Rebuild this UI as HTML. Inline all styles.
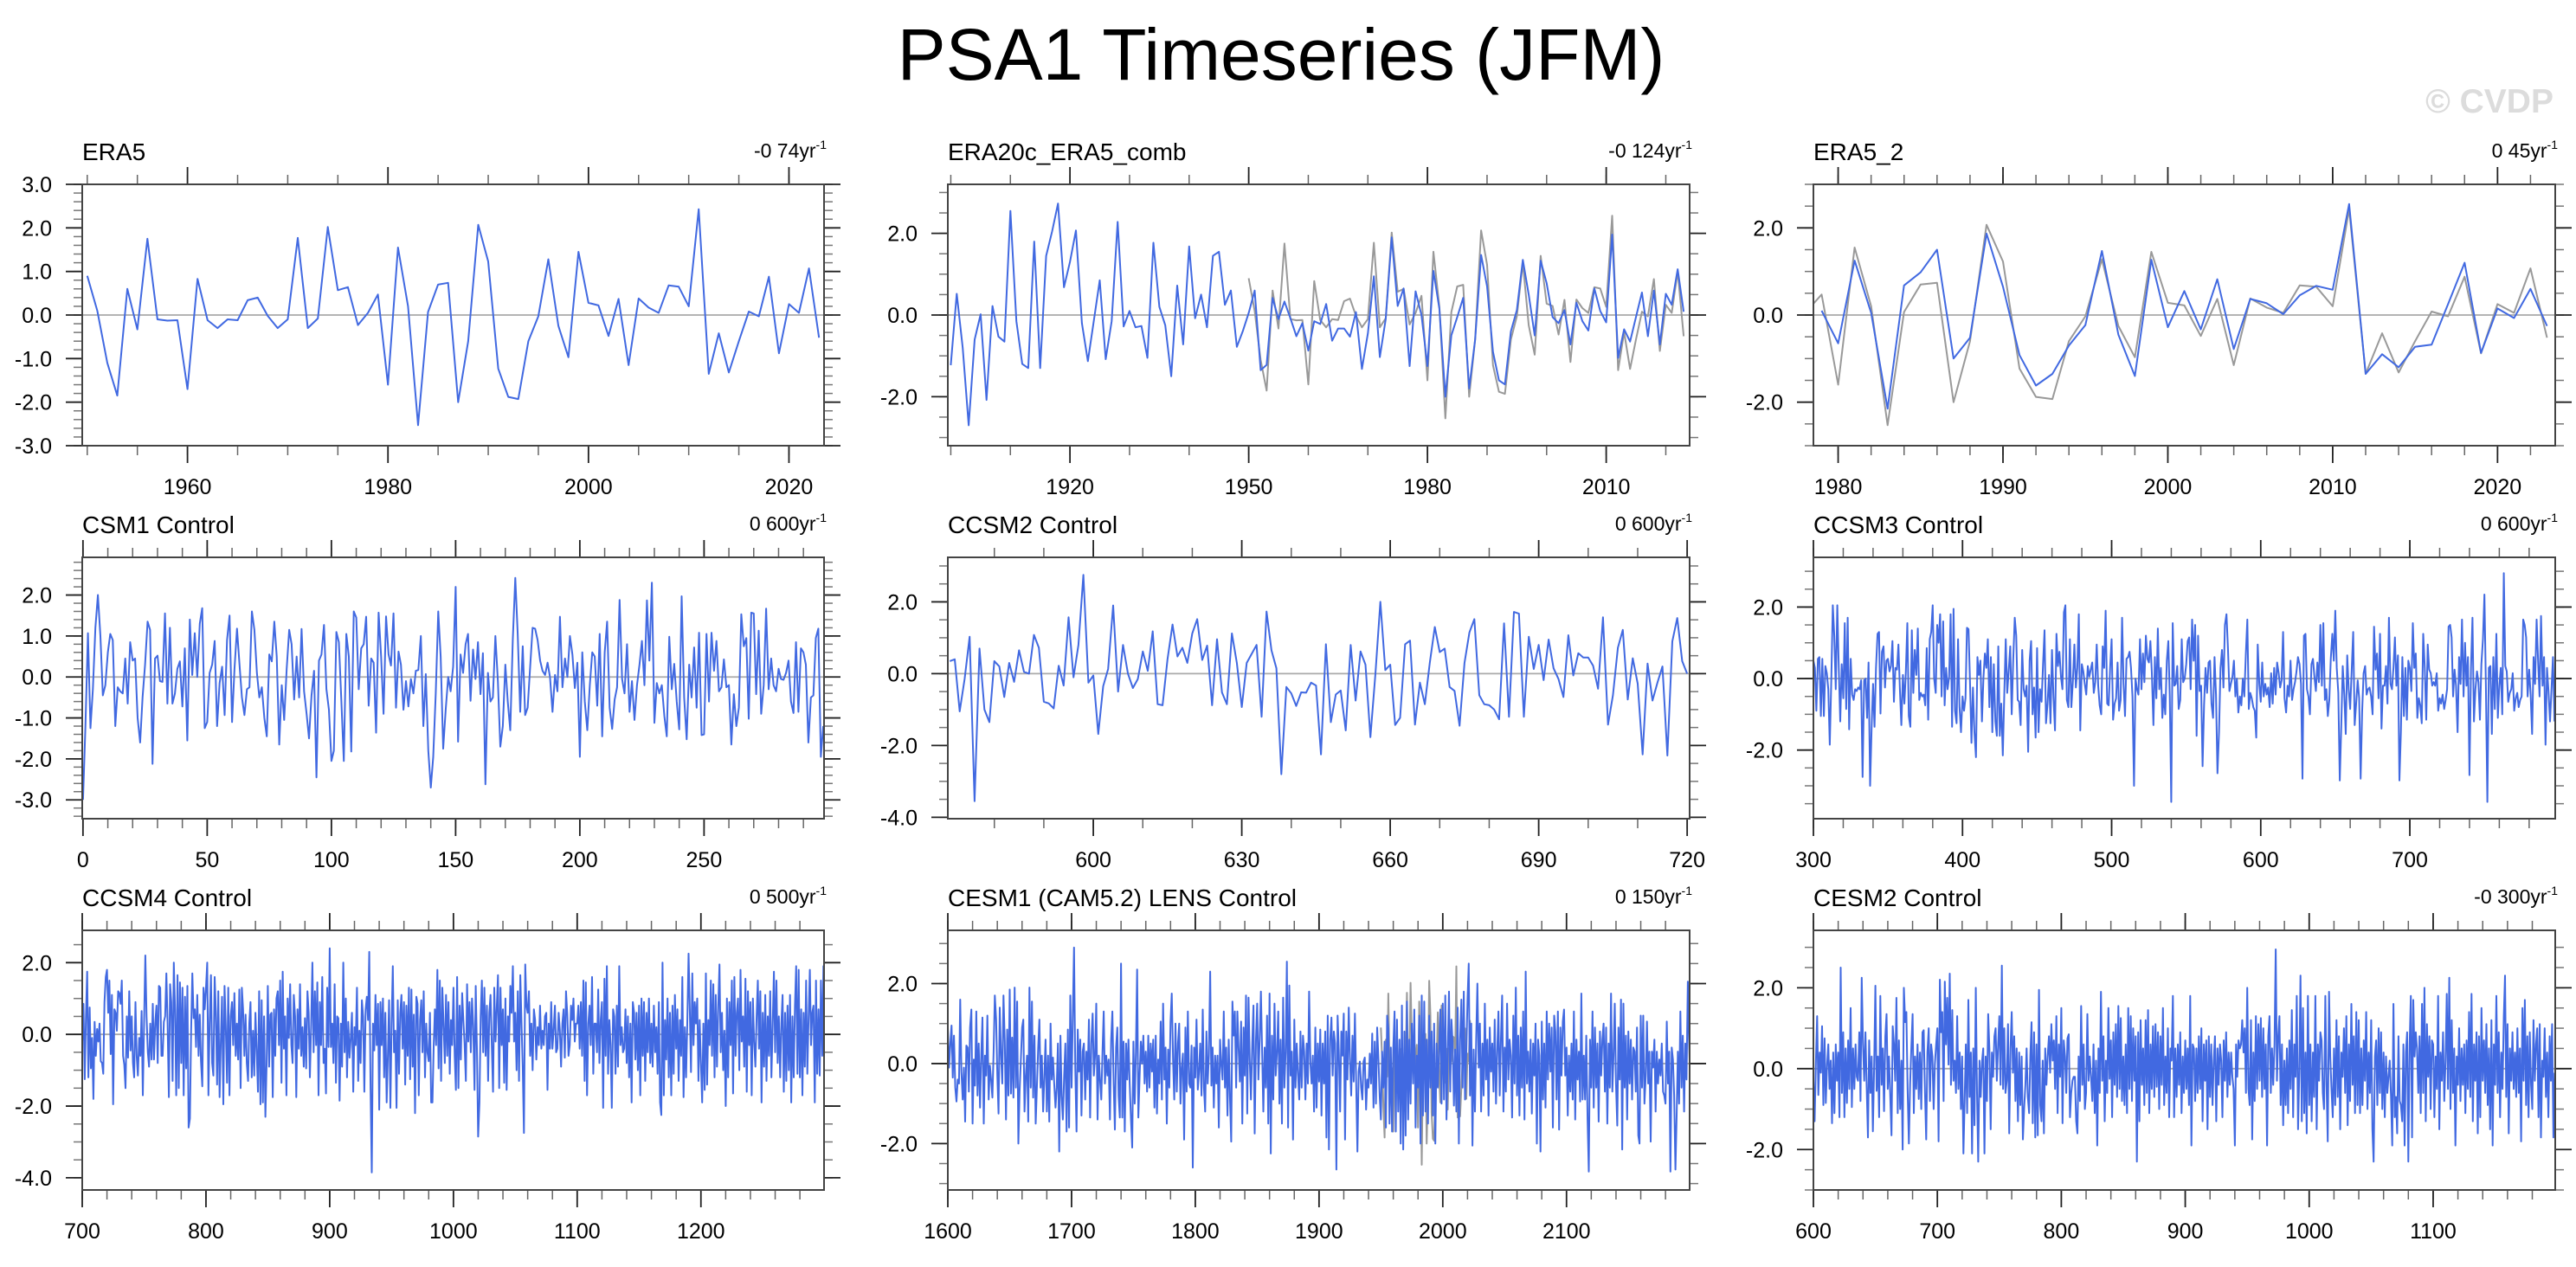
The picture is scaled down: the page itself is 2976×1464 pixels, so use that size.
<!DOCTYPE html>
<html><head><meta charset="utf-8"><style>
html,body{margin:0;padding:0;background:#fff;}
svg{display:block;font-family:"Liberation Sans",Arial,sans-serif;}
</style></head><body>
<svg id="fig" width="2976" height="1464" viewBox="0 0 2976 1464" xmlns="http://www.w3.org/2000/svg">
<rect x="0" y="0" width="2976" height="1464" fill="#fff"/>
<text x="1480" y="92" font-size="84" text-anchor="middle" fill="#000">PSA1 Timeseries (JFM)</text>
<text x="2950" y="130" font-size="39" font-weight="bold" text-anchor="end" fill="#dcdcdc">© CVDP</text>
<defs id="defs"></defs>
</svg>
<script>
// ---------- DATA ----------
const era5Start = 1950;
const era5Values = [0.9,0.1,-1.1,-1.85,0.6,-0.33,1.75,-0.1,-0.13,-0.12,
-1.7,0.83,-0.12,-0.3,-0.1,-0.12,0.34,0.4,-0.02,-0.3,
-0.1,1.77,-0.3,-0.08,2.02,0.57,0.64,-0.23,0.05,0.47,
-1.6,1.55,0.2,-2.53,0.07,0.7,0.74,-2.0,-0.6,2.07,
1.23,-1.23,-1.88,-1.93,-0.6,-0.03,1.28,-0.25,-0.97,1.45,
0.28,0.22,-0.48,0.37,-1.15,0.38,0.17,0.05,0.68,0.65,
0.2,2.43,-1.35,-0.42,-1.32,-0.6,0.08,-0.03,0.88,-0.88,
0.25,0.05,1.07,-0.52];

const era20cStart = 1900;
const era20cValues = [-1.23,0.52,-0.8,-2.7,-0.6,0.02,-2.08,0.22,-0.53,-0.65,
2.55,-0.15,-1.2,-1.3,1.8,-1.3,1.45,2.05,2.73,0.68,
1.3,2.07,-0.2,-1.13,-0.15,0.85,-1.08,-0.15,2.28,-0.28,
0.1,-0.3,-0.27,-1.05,1.77,0.2,-0.25,-1.5,0.72,-0.72,
1.68,-0.08,0.5,-0.3,1.45,1.55,0.25,0.6,-0.78,-0.4,
0.05,0.6,-1.35,-1.22,0.42,-0.1,0.33,-0.08,-0.52,-0.2,
-0.87,-0.15,-0.22,0.27,-0.63,-0.33,-0.33,-0.53,0.07,-1.32,
-0.45,0.95,-1.03,-0.1,1.9,0.22,0.65,-1.25,0.58,0.0,
-1.25,1.08,0.15,-2.0,-0.5,-0.05,0.42,-1.8,-0.6,1.47,
0.7,-0.9,-1.6,-1.7,-0.4,0.12,1.35,0.5,-0.5,1.33,
0.78,-0.05,-0.2,0.12,-0.72,0.3,-0.15,-0.38,0.65,0.1,
-0.18,1.97,-1.05,-0.35,-0.65,-0.05,0.55,-0.52,0.6,-0.72,
0.52,0.25,1.12,0.08];

const era5bStart = 1979;
const era5bValues = [0.1,-0.65,1.25,0.05,-2.15,0.68,0.98,1.5,-1.0,-0.52,
1.87,0.65,-0.92,-1.62,-1.35,-0.7,-0.23,1.47,-0.45,-1.4,
1.27,-0.28,0.55,-0.33,0.82,-0.78,0.37,0.27,0.02,0.45,
0.67,0.58,2.55,-1.35,-0.9,-1.2,-0.73,-0.68,0.25,1.2,
-0.87,0.15,-0.07,0.6,-0.25];

const csm1Start = 0;
const csm1Values = [-3.0,-1.2,1.07,-1.25,-0.3,1.2,2.0,1.0,-0.45,-0.2,
0.6,1.05,0.9,-1.2,-0.25,-0.35,-0.4,0.45,-0.65,0.85,
0.4,0.45,-1.0,-1.6,-0.5,0.3,1.35,1.15,-2.12,0.45,
0.52,-0.1,-0.12,1.55,-0.65,1.2,-0.65,-0.4,0.2,0.38,
-0.72,0.7,-1.55,1.4,0.05,1.07,0.0,1.3,1.68,-1.25,
-1.1,0.1,0.3,0.88,-1.2,-0.15,0.25,-0.93,0.9,1.5,
-1.1,0.2,1.18,0.3,-0.5,-0.93,-0.3,-0.25,1.6,1.15,
0.1,-0.5,-0.25,-1.0,-1.45,0.55,0.38,1.35,0.5,-1.65,
-0.2,-1.05,0.2,1.15,0.8,-0.55,0.5,-0.5,1.17,-0.35,
-0.9,-1.5,-0.45,0.15,-2.45,0.4,0.55,1.27,-0.3,-0.8,
-2.05,-1.8,1.1,0.85,-0.55,-2.05,1.05,0.5,-1.82,1.6,
1.45,-0.3,0.7,0.8,1.47,-0.7,0.45,0.35,-1.36,1.57,
0.5,-0.9,1.48,0.55,0.28,1.55,-0.75,0.62,0.3,-0.8,
-0.1,-0.72,-0.05,-0.4,0.15,0.17,1.0,-1.2,0.07,-1.8,
-2.7,-1.95,-0.4,1.6,0.5,-1.75,-0.8,0.0,-0.35,0.25,
2.2,-1.58,0.55,0.1,0.8,1.05,-0.58,0.67,-0.05,0.85,
-0.42,0.58,-2.62,0.1,-0.6,-0.5,1.0,-0.1,-1.7,-1.2,
0.3,-0.6,-1.3,0.9,2.42,1.05,-0.85,0.75,-0.93,-0.75,
0.25,1.2,1.18,0.9,0.4,0.15,0.05,0.35,0.0,-0.85,
0.05,-0.35,1.47,-0.25,0.45,0.0,1.0,0.55,-0.27,0.35,
-1.95,0.6,-0.6,-1.3,-0.2,0.6,0.5,-0.7,1.05,-1.45,
0.6,1.35,-0.75,-1.27,-0.55,-0.25,1.88,-0.05,-0.4,0.8,
-0.85,-0.1,-1.05,-0.2,0.3,0.88,-0.2,1.87,0.4,2.3,
-1.12,-0.15,-0.4,-0.2,-0.95,-1.45,0.98,-0.3,0.32,-0.6,
-1.28,1.97,-0.5,-1.52,0.3,-0.5,0.72,-0.75,1.08,-1.42,
-1.4,1.05,-0.6,1.08,0.15,0.88,-0.35,-0.25,0.43,-0.25,
-0.2,-1.65,-0.42,-1.2,-0.75,1.53,0.75,0.95,-1.02,1.57,
1.55,-0.42,1.13,-0.9,-0.2,1.67,-0.3,0.45,-0.2,-0.35,
0.2,-0.05,-0.07,0.1,0.4,-0.6,-0.88,0.85,-0.85,0.7,
0.6,0.3,-1.6,-0.5,-0.45,0.95,1.18,-1.95,-1.2];

const ccsm2Start = 571;
const ccsm2Values = [0.35,0.4,-1.05,-0.15,1.03,-3.55,0.7,-1.0,-1.35,0.35,
0.2,-0.65,0.3,-0.23,0.65,0.05,0.0,1.08,0.72,-0.78,
-0.83,-0.97,0.22,-0.33,1.57,-0.1,0.8,2.75,-0.25,-0.05,
-1.68,-0.35,0.13,1.9,-0.5,0.8,0.0,-0.4,-0.15,0.62,
0.08,1.18,-0.85,-0.88,0.4,1.37,0.48,0.72,0.3,1.12,
1.52,0.38,0.78,-0.88,0.96,-0.52,-0.85,1.12,0.3,-0.93,
0.3,0.55,0.8,-1.2,1.73,0.65,0.15,-2.8,-0.37,-0.55,
-0.9,-0.52,-0.53,-0.25,-0.33,-2.25,0.82,-1.35,-0.58,-0.47,
-1.58,0.8,-0.75,0.62,0.25,-1.77,0.0,2.0,0.1,0.25,
-1.43,-1.23,0.82,0.92,-1.42,-0.25,-0.85,0.3,1.3,0.6,
0.7,-0.37,-0.48,-1.45,0.3,1.15,1.52,-0.6,-0.85,-0.88,
-1.0,-1.27,1.4,-1.2,1.72,1.67,-1.2,1.03,0.13,0.8,
-0.18,0.95,0.15,-0.15,-0.65,1.07,-0.05,0.57,0.45,0.45,
0.22,-0.42,1.57,-1.42,-0.6,0.72,1.22,-0.72,0.43,-0.28,
-2.25,0.28,-0.75,-0.25,0.2,-2.28,0.9,1.55,0.35,0.0];

const ccsm3Start = 300;
const ccsm3Values = [0.5,0.3,-0.9,0.55,0.6,-1.05,0.55,-1.05,0.35,0.15,
-0.3,-1.85,0.0,2.05,1.2,-0.3,2.05,0.3,-1.2,0.4,
-0.55,1.55,-0.85,1.7,-1.42,0.55,-0.45,-0.6,-0.3,-0.35,
-0.25,-0.3,-0.05,-2.75,-0.05,0.0,-1.1,0.45,-3.0,-1.4,
-0.15,-1.35,0.3,1.25,1.3,-0.98,0.75,0.9,-0.25,0.5,
0.55,0.2,0.35,1.05,-0.65,0.3,0.25,0.95,-0.3,-1.3,
0.1,-0.7,0.2,1.55,-1.05,-1.35,1.35,-0.4,0.8,0.1,
1.4,-0.6,-0.4,-0.5,-0.45,-0.75,0.85,-1.15,1.1,1.3,
2.05,0.0,-0.4,1.5,1.0,1.8,-0.5,1.6,-0.75,0.3,
-0.3,0.05,1.8,-1.35,1.95,-0.9,-1.25,1.1,-0.8,-1.5,
-0.5,-0.9,-0.55,1.42,1.38,-0.1,-1.8,-0.25,-1.5,-2.2,
0.6,0.1,0.5,-1.2,0.0,0.7,0.3,1.1,-0.8,0.6,
-1.5,0.4,-1.2,-1.6,0.9,-1.6,-0.7,-2.15,-0.45,1.1,
-0.4,0.25,0.9,-1.0,0.5,1.7,1.2,-0.6,-0.65,-1.3,
0.8,-0.3,-0.5,-0.2,-2.05,0.5,1.05,-1.0,-0.25,-1.65,
0.85,-1.5,-0.3,-0.65,0.4,1.35,-1.25,-0.7,0.1,-1.25,
0.8,-0.5,-1.45,1.25,0.35,0.75,0.05,-0.3,1.85,2.05,
-0.6,-0.8,1.1,-0.8,-0.1,0.95,-0.25,0.3,1.8,-1.45,
0.4,0.2,-0.15,-0.45,0.35,0.05,0.25,0.45,-0.4,-0.1,
0.95,-0.2,-0.75,-1.0,0.9,0.3,1.9,-0.7,-0.75,0.3,
1.1,-1.15,-0.7,-0.55,0.45,-0.9,-0.6,1.7,-0.15,-1.05,
0.55,0.6,0.75,0.3,-0.5,-3.0,0.0,-0.3,-0.45,1.1,
-0.3,0.7,-0.1,1.2,0.55,0.45,1.05,0.15,-1.3,0.6,
-0.55,1.4,-0.3,0.3,-1.1,-0.45,-1.0,0.5,1.05,-0.5,
-3.45,1.55,-0.2,-0.15,0.35,-0.85,-0.6,1.1,-0.1,0.0,
0.4,1.05,1.15,-0.3,1.65,0.5,1.5,-1.6,1.2,-0.35,
-0.2,-2.45,-0.75,0.3,-0.4,0.45,0.5,-0.7,-1.1,0.6,
-0.45,-2.65,-1.5,0.3,0.8,-0.25,1.5,1.8,0.85,-0.35,
-0.15,0.05,0.5,-0.5,0.0,-0.95,-0.5,-0.75,0.0,-0.5,
0.7,1.65,-0.85,-0.4,-0.55,-0.8,-0.9,-1.65,0.95,-0.15,
-0.65,0.45,-0.5,-0.15,-0.45,-0.25,-0.8,0.15,-0.7,0.3,
-0.45,0.45,0.15,-0.25,-0.05,1.3,-0.55,-0.95,-0.2,-0.5,
0.5,-0.6,-0.3,-0.1,0.2,0.6,0.4,-0.15,-2.8,1.2,
1.25,-0.3,-0.5,-1.0,0.4,0.55,0.05,-0.35,0.45,-0.1,
1.5,-0.2,1.55,-0.6,-0.3,-1.05,-0.6,0.55,1.25,0.5,
1.9,0.3,-0.4,-2.85,-1.35,0.35,-0.45,-1.55,0.65,-0.3,
-0.85,0.25,1.3,-1.3,-0.7,-0.05,-0.55,-2.8,-0.95,0.15,
0.35,-0.45,-0.3,-0.25,-0.5,-1.0,1.45,0.25,0.7,-0.55,
1.25,-1.4,-0.2,-0.2,0.35,-0.7,1.7,-0.15,-0.3,0.3,
1.15,-0.2,0.65,-2.85,-1.5,0.6,-1.05,0.3,-1.15,0.5,
0.3,-0.35,1.55,0.3,0.7,-1.1,-0.55,-0.75,-1.25,1.25,
0.3,-1.15,0.95,0.25,0.15,-0.2,-0.1,-0.2,0.15,-0.9,
-0.55,-0.7,-0.45,-0.85,-0.6,-0.3,1.45,1.5,1.15,-0.5,
0.25,-0.2,-1.5,0.6,-0.15,1.65,-0.5,1.0,-0.2,0.6,
-2.7,0.3,1.7,-1.2,-0.3,0.2,-0.1,-1.15,0.4,1.1,
2.35,-0.2,-3.45,0.3,0.35,-1.55,0.6,-0.85,1.25,-1.1,
-0.2,0.3,-1.0,2.95,0.35,0.2,-0.65,-0.4,-0.3,0.15,
-0.9,-0.55,-0.4,-0.8,-0.6,-0.5,1.65,1.5,1.15,-0.5,
0.25,-0.45,-1.55,0.6,-0.15,1.65,0.5,-0.5,1.75,-0.2,
0.6,-1.85,0.3,-0.35,-1.2,-0.3,0.6,-1.2];

const ccsm4Start = 700;
const ccsm4Values = [-0.2,0.85,-1.25,0.5,1.75,-1.2,0.75,-0.95,-0.1,-1.8,
0.35,-0.6,0.15,-0.2,0.3,-0.75,-0.8,-1.1,0.9,1.6,
1.8,0.6,1.5,-0.55,1.1,-1.95,0.7,0.6,0.1,1.2,
1.15,0.85,1.5,-0.6,-0.85,-1.5,0.5,-0.65,1.2,-0.45,
0.5,-0.8,-1.2,0.9,-0.6,-1.15,-0.1,-0.6,0.65,-1.7,
0.4,2.2,0.5,-0.5,-0.9,0.3,-0.7,0.85,-0.7,0.3,
0.8,-0.8,1.35,1.3,-0.6,-0.6,0.35,0.5,1.7,0.3,
-1.75,1.4,0.9,-1.3,2.0,0.7,-1.7,1.65,-1.5,1.45,
-0.8,1.3,-1.7,1.05,-0.95,1.35,-2.6,-2.35,0.1,1.7,
0.45,0.7,-0.35,1.1,-0.6,0.55,-0.75,-1.45,1.3,0.7,
1.3,2.0,-1.7,0.3,1.65,-0.8,-1.15,1.6,0.6,-1.4,
1.2,-1.75,-0.2,1.05,-1.95,1.35,0.25,-1.35,1.3,-1.7,
0.5,0.9,-0.3,1.15,-0.6,0.3,-0.7,1.25,-1.5,1.3,
0.7,-0.6,0.55,-0.8,-1.3,0.3,0.9,-1.2,0.1,-1.15,
0.6,-0.5,-1.6,1.2,-1.95,0.95,-1.9,0.5,-2.3,-0.85,
1.35,-0.9,0.55,0.6,-1.75,0.7,-0.6,1.0,1.2,-0.3,
1.5,-1.35,1.75,-0.4,0.5,-1.7,1.0,-0.1,1.4,-0.3,
-0.8,1.1,0.5,-1.75,0.7,-0.4,1.4,-0.6,0.2,-0.9,
0.45,-0.95,1.2,0.6,-1.2,0.3,2.0,-0.5,1.2,-0.3,
1.45,-1.7,0.9,-0.3,1.6,-0.8,-0.4,-1.65,1.3,-0.35,
2.4,-0.35,0.3,-0.8,1.4,-1.35,0.5,0.45,-1.85,0.3,
-0.9,2.0,-0.5,1.0,-1.2,0.35,-0.65,-0.1,0.6,-1.6,
0.2,-0.3,1.3,-1.3,0.1,-0.8,0.95,0.5,-1.6,0.7,
1.05,0.4,2.3,-1.5,-3.85,0.3,-0.45,1.1,-0.3,0.85,
-2.1,0.9,-0.3,1.0,-1.2,0.6,-1.9,-0.6,0.95,-2.05,
0.3,1.9,-0.5,0.1,-2.05,0.95,-1.1,0.6,1.1,-0.4,
0.9,-1.4,0.8,-0.6,1.3,-1.25,1.25,-0.9,0.55,-2.2,
1.05,0.85,-1.7,0.4,0.95,-0.5,1.2,-1.2,0.3,-0.5,
-0.75,0.6,-1.9,-1.9,-0.35,0.7,-0.3,1.8,-0.95,1.5,
-1.3,1.3,0.3,-0.8,1.1,-0.6,0.9,-1.1,0.4,-0.3,
1.3,-0.6,-1.55,1.6,-1.5,0.8,-0.7,1.15,0.4,-0.25,
-1.3,1.4,-0.2,0.9,-0.5,1.0,0.25,-1.55,1.35,-0.4,
-2.85,-1.9,0.5,1.5,-0.5,1.3,-0.6,0.8,-1.3,0.6,
1.1,-0.35,-1.6,1.3,-0.2,0.75,1.65,-1.5,1.3,-0.3,
0.7,-1.35,1.0,-1.55,0.5,-0.2,1.35,0.6,1.9,-0.2,
0.6,-1.0,1.2,-1.3,1.65,0.3,-0.9,-2.75,1.95,0.8,
0.6,1.2,-0.6,0.3,-1.0,0.7,0.4,-0.7,0.2,-0.3,
0.8,-0.4,0.1,-0.3,0.5,0.6,-1.55,0.3,-0.4,0.9,
-0.4,0.1,0.8,-0.5,-0.4,0.6,0.1,-0.9,0.3,0.7,
-0.65,1.2,0.55,-0.6,-0.3,0.8,0.4,1.0,-0.2,0.3,
0.3,0.8,-0.4,0.9,-0.6,1.5,-1.3,1.45,-1.7,0.3,
0.8,-0.3,1.6,-1.1,0.3,0.3,-0.5,1.25,-0.8,0.4,
0.9,-2.05,1.55,-0.6,1.9,-1.1,0.4,-0.3,-2.05,0.7,
0.5,-1.1,0.8,-0.9,1.9,-0.3,0.2,-0.5,-0.4,0.7,
-0.8,0.5,-1.2,0.3,-1.9,0.9,0.6,-0.7,0.6,-1.0,
0.8,-1.7,1.0,-0.6,0.9,-1.3,0.6,-0.5,1.0,-0.8,
0.3,-0.9,0.8,-0.5,0.2,-1.1,0.9,-1.9,-2.25,2.0,
-1.7,0.4,-0.7,1.0,-1.2,0.6,-1.7,0.8,-1.1,1.1,
-0.4,0.7,-1.3,0.4,-0.6,1.6,-1.75,0.2,-1.2,0.3,
2.25,0.7,-1.05,1.7,-0.3,0.9,0.3,1.0,-1.3,0.4,
-0.85,-1.9,0.3,-1.55,1.7,-1.4,0.4,-0.3,1.5,-0.6,
1.4,-1.2,1.1,-0.9,0.8,1.95,-0.5,0.6,-1.0,0.1,
-2.0,1.0,-1.2,0.9,-0.3,1.5,-1.65,1.6,-0.6,0.6,
1.0,-1.0,1.8,-0.2,0.5,-0.9,1.55,-1.6,1.2,-0.3,
0.9,-1.7,1.0,-0.2,-0.9,0.5,1.5,-0.4,1.2,-1.9,
0.6,-0.9,1.1,-1.3,0.5,-0.6,1.2,-1.2,0.3,1.75,
-0.5,1.5,-0.8,0.5,-1.2,0.3,1.1,-1.6,0.6,-1.3,
0.8,-1.0,1.1,-1.9,0.5,-1.2,0.8,1.9,-1.1,1.8,
-1.2,0.7,-1.7,0.6,-0.9,1.5,-1.1,0.4,1.8,-0.3,
0.6,0.8,-1.9,1.5,-1.1,0.7,-1.15,1.5,-0.6,1.9,
-0.7];

const cesm1Start = 1600;
const cesm1Values = [0.9,-0.1,0.5,0.95,-0.35,0.7,-0.6,-0.95,-0.4,-0.5,
1.6,-0.2,-0.9,-0.1,-1.45,0.45,0.4,-0.7,0.9,1.35,
-1.5,0.1,-0.55,1.3,-0.8,0.5,-1.1,0.2,1.15,-1.5,
0.2,-0.3,1.2,-0.9,-0.05,-0.4,-0.85,0.3,1.7,1.1,
-0.3,-1.25,1.4,0.2,-0.5,1.7,0.55,-1.4,0.85,-0.8,
1.85,-0.75,0.65,-0.85,1.9,-0.6,1.55,-2.0,-0.7,0.05,
0.9,1.1,-1.2,-0.3,0.2,-1.45,1.9,-0.6,1.55,-0.85,
0.7,-1.5,-0.6,0.4,1.1,-0.6,0.2,-1.2,-0.35,0.6,
-1.2,0.2,-1.45,1.0,-0.4,0.15,-0.5,-1.1,-0.6,0.5,
-2.2,0.7,-0.8,-1.4,-0.3,0.5,-1.7,0.85,-1.6,1.7,
-0.6,1.2,2.9,-0.1,-1.7,0.85,-0.2,0.6,-1.3,0.3,
0.5,-0.9,0.3,-0.4,1.1,-1.35,0.5,1.25,-0.3,0.2,
1.5,-1.4,0.2,-0.4,-0.9,0.3,1.3,-0.5,0.2,-0.3,
0.1,-1.4,0.6,1.3,-0.5,-1.65,0.4,0.9,-0.8,-1.35,
2.5,-1.35,0.55,-1.7,0.5,-0.4,0.6,-0.5,-1.4,-2.1,
0.55,-1.0,0.3,2.35,-1.35,-0.3,0.55,0.0,0.7,-0.5,
0.3,-0.7,0.7,-0.6,0.5,-0.2,0.6,-1.1,0.7,-1.25,
0.1,-0.5,1.05,-0.9,1.5,-0.4,0.4,-1.5,0.35,-0.6,
1.05,1.75,0.1,-0.9,1.0,-0.7,0.5,1.0,-1.0,-0.1,
0.25,-1.9,0.9,-0.7,1.3,-0.5,-0.6,0.45,-2.6,0.4,
-0.35,1.1,-0.65,-0.2,0.5,-0.8,1.35,-0.6,-1.2,0.8,
-0.5,0.2,2.3,-0.55,0.4,-1.1,0.2,-0.5,0.2,-1.6,
0.6,0.0,-0.4,1.3,-0.6,0.4,-1.3,0.6,-0.8,-1.95,
1.55,0.7,1.3,-0.6,1.3,0.4,-0.45,1.05,-1.5,0.9,
-0.3,1.7,-1.25,1.65,0.1,-0.9,0.5,1.45,-1.75,0.6,
1.5,-0.4,0.55,1.8,0.3,-1.2,0.4,-0.6,1.2,-1.5,
1.75,-2.25,0.7,-0.9,1.5,-0.3,0.3,1.3,-1.0,0.6,
-1.5,1.65,-0.6,0.3,2.55,-1.6,1.95,-0.3,0.3,-1.9,
1.1,-0.6,0.5,-0.3,-0.9,0.8,-0.6,0.7,0.3,-0.9,
0.5,-0.5,1.8,0.0,-0.5,0.2,-1.2,0.9,-1.1,0.5,
-0.45,0.85,-1.3,0.5,-0.5,0.8,-1.85,1.2,-2.15,0.6,
1.15,-0.3,0.8,0.5,-2.65,1.2,0.3,-1.2,0.8,0.2,
1.25,-1.9,0.8,-0.4,1.4,0.1,-0.8,0.7,-0.45,1.25,
-0.4,-2.2,-0.2,0.05,-0.6,-0.9,0.05,0.15,-1.15,-0.4,
-0.6,0.25,-0.5,0.75,-1.1,0.55,-1.0,0.9,0.1,-0.8,
-1.4,0.3,-0.6,0.55,-1.6,1.2,0.9,-1.5,0.4,-1.7,
0.35,1.3,-1.7,1.1,-1.2,0.6,-2.0,1.45,-2.15,0.8,
-1.8,1.55,-1.4,0.6,-1.0,1.0,-0.5,1.35,-1.6,0.2,
-0.6,1.2,-2.0,1.7,-1.3,1.55,-1.2,0.6,-1.5,1.2,
-0.6,0.8,-1.3,1.0,-2.0,0.5,-0.6,0.3,1.35,-1.0,
1.5,-0.9,1.7,-1.4,0.2,1.8,-0.7,1.1,0.5,-1.05,
0.35,-1.2,1.4,-2.0,0.6,1.6,-0.6,1.8,-0.9,0.3,
1.6,2.5,-0.8,1.0,-2.05,0.35,-1.2,0.6,2.0,-0.1,
1.0,-1.2,0.5,-0.8,1.5,-0.4,0.6,-1.3,0.9,-0.2,
0.5,-0.7,1.1,-1.0,0.3,1.3,-0.8,0.6,1.7,-1.2,
0.4,-0.7,1.5,-0.4,0.6,0.2,-1.35,1.2,-0.5,1.9,
-0.8,0.7,-1.3,0.9,-0.6,1.3,-1.4,2.3,-0.5,0.3,
-0.7,0.6,-1.25,0.5,-0.3,1.0,-2.0,0.6,0.2,-2.2,
1.05,-0.9,0.5,-1.1,1.3,-0.4,1.0,-0.2,0.9,-1.6,
1.2,0.8,-0.9,1.3,-1.65,0.9,-0.3,1.05,1.35,-0.3,
0.4,-1.3,0.2,-0.7,0.5,-0.9,1.3,-1.4,0.6,-0.4,
0.3,-0.95,1.75,-0.9,0.2,-0.9,0.7,-1.4,-2.7,0.6,
-0.6,1.3,-1.1,0.9,-0.6,0.5,-1.45,0.8,-0.3,0.6,
1.0,-0.7,0.9,-1.5,0.5,-0.6,1.75,-0.7,0.2,1.5,
-0.5,-1.55,0.9,-0.4,1.6,-2.15,1.5,-0.6,0.7,-1.4,
0.8,-0.5,0.6,-0.9,0.4,0.3,-0.7,0.9,-1.8,-2.0,
1.2,-0.6,1.2,-1.0,-0.3,1.05,-0.5,0.3,-1.95,0.3,
-0.1,0.6,-1.2,0.3,-0.5,0.1,-0.3,0.5,-0.7,-0.8,
-1.0,1.05,-0.5,0.3,-2.7,0.4,0.1,-0.8,-2.65,-1.3,
0.3,-1.0,1.3,-0.6,0.7,-1.2,0.5,-0.4,2.05,0.6,
-0.5];

const cesm2Start = 600;
const cesm2Values = [-0.3,-1.3,0.2,1.3,-0.65,0.4,-0.1,1.05,-0.9,0.75,
-0.85,0.1,0.6,-0.5,0.2,-1.35,0.4,-1.1,0.6,-0.3,
0.4,-1.2,2.5,-0.6,0.9,-1.2,0.5,-0.85,0.7,-0.5,
1.5,-0.95,0.5,-0.5,0.6,-0.2,-0.3,0.9,-0.8,2.25,
0.6,-0.3,0.9,-0.5,-1.7,0.7,-0.6,0.3,-1.55,0.1,
2.05,-0.55,0.3,-1.2,1.8,-0.4,0.5,-1.05,0.8,1.35,
-0.5,0.3,-0.7,-1.65,1.05,0.6,-0.3,1.75,-1.1,0.7,
-1.0,0.2,-2.0,2.0,1.15,1.4,-0.5,-1.85,-0.4,0.5,
1.35,-1.1,0.3,-0.5,0.6,-0.75,0.4,-1.0,0.9,0.95,
-0.6,-1.75,0.4,1.0,-0.8,0.6,0.3,-1.0,0.1,0.6,
1.0,-1.8,2.2,0.9,1.4,-0.8,2.15,0.6,1.75,0.1,
2.35,-0.4,1.45,-0.3,0.2,-0.6,1.3,-0.5,0.4,-1.0,
0.3,-2.1,-0.8,0.6,-1.1,1.7,-0.7,0.4,-2.1,0.5,
-1.4,2.0,-0.6,-2.3,0.2,-0.7,0.15,0.5,-2.1,0.3,
-0.8,1.35,0.5,-1.5,0.4,-0.2,0.8,1.0,-0.3,0.6,
1.3,-0.4,2.55,-0.5,1.0,-0.6,-0.3,1.1,-1.6,0.5,
1.4,-0.1,0.8,-0.8,0.5,-1.3,0.4,-0.9,0.3,-1.75,
-1.0,-0.4,0.5,-0.7,-1.1,0.3,1.15,-1.35,0.9,-1.7,
0.6,-1.65,1.95,-0.9,-1.3,0.2,-1.6,0.5,-0.4,0.3,
0.8,-0.1,1.1,0.2,0.7,-0.5,1.3,-1.1,0.6,-0.2,
1.5,-1.35,0.7,0.3,-0.6,0.75,0.85,-1.2,-0.6,-0.3,
-0.2,-0.2,-1.3,-1.6,0.3,-0.8,1.55,-0.4,0.6,-1.0,
-0.6,1.35,-0.3,0.3,-0.2,-0.8,0.6,-1.1,0.2,-1.9,
0.5,-0.6,1.9,-0.3,0.8,-1.3,0.2,-0.6,1.5,-0.25,
0.7,-1.2,0.9,-0.4,1.1,-0.7,1.55,-0.5,1.25,-0.8,
0.3,-0.9,0.6,-1.1,1.5,-0.5,1.3,-0.8,1.0,-0.3,
0.8,-2.3,0.9,-1.3,1.2,-0.4,0.5,-0.9,1.2,-0.6,
1.45,-1.1,0.6,-0.5,1.05,-0.7,1.1,-0.45,0.9,-1.0,
0.8,-0.4,1.5,-0.9,0.3,-0.6,1.0,-1.2,0.5,0.2,
1.8,-1.2,0.5,-0.7,0.6,-0.4,0.9,-1.1,0.3,-0.6,
0.7,-0.5,0.5,-0.9,1.8,-1.9,0.6,0.5,-0.8,0.5,
-0.6,0.8,-0.5,1.0,-1.3,0.6,-0.3,0.7,-1.5,0.8,
-0.7,0.6,-0.9,0.2,0.8,-1.3,0.5,-0.4,0.6,0.2,
-1.2,0.7,-0.3,0.9,-0.7,0.4,-0.4,0.4,-0.2,-0.5,
-1.9,0.6,-0.2,0.7,0.5,0.6,1.2,0.4,1.0,-0.6,
2.0,-0.5,-0.9,1.2,-1.75,0.4,-0.8,1.3,-0.5,1.1,
-0.3,1.25,-0.7,1.0,-0.5,0.6,-1.9,0.8,1.3,-0.6,
0.5,-0.4,0.6,2.95,-0.3,0.8,1.3,-0.9,0.6,-1.4,
0.2,-0.9,0.5,-1.1,0.7,-0.5,1.45,-1.2,0.6,-0.2,
1.8,-1.5,-0.1,2.3,-1.3,1.5,-1.1,0.4,-1.6,1.8,
-0.9,0.6,-1.3,0.4,-0.7,1.8,-1.5,0.6,-0.3,0.9,
0.7,-0.6,-1.0,1.8,-0.4,-1.8,1.9,0.3,-0.5,-1.2,
0.5,-0.9,1.2,-0.7,0.8,-1.5,0.4,-0.2,1.0,-0.6,
1.3,-1.4,0.6,-0.8,1.6,-0.4,0.8,-1.1,1.4,-0.9,
1.2,-1.1,0.5,-0.9,0.7,-0.3,1.4,-1.0,0.4,-0.6,
1.2,-1.5,-2.3,0.3,0.7,-0.9,1.0,-0.6,0.9,-1.0,
0.4,-1.2,0.3,-0.6,-0.2,0.2,-0.7,-1.9,1.6,-1.2,
-0.7,-1.6,0.8,-0.8,-0.9,-1.3,0.6,-1.9,0.4,0.9,
-2.3,0.6,1.8,-1.7,1.7,0.3,0.9,0.5,-0.6,0.8,
-1.1,1.6,-0.6,2.0,-1.3,1.1,-0.2,0.8,-1.0,0.7,
0.6,-1.2,0.3,-0.5,1.8,-1.5,0.4,-0.3,0.9,-0.8,
0.2,1.85,-0.5,2.25,-1.0,1.2,-0.6,0.5,-1.9,0.3,
-0.4,1.0,-0.8,0.5,-0.4,0.6,-1.1,0.7,-0.5,1.4,
-0.7,1.85,-1.3,0.6,-0.3,0.9,-1.6,0.8,-1.2,1.5,
-0.3,0.7,-0.6,1.1,-0.9,0.5,-1.5,1.2,-1.9,0.6,
-0.4,1.8,-0.6,0.9,-1.2,0.4,-0.5,1.3,2.3,-0.7,
1.1,-1.6,0.5,-0.3,0.9,-0.5,0.4,-0.7,1.0,-0.6,
0.5,-1.8,1.5,-0.3,1.7,-0.9,0.8,-1.2,0.9,-0.4,
-1.0,1.2,-0.3,0.6,1.0,-1.2,1.1,-1.7,0.2,-0.2,
1.0,-0.7,0.4,-1.2,0.8,-0.3,1.1,-1.7,-0.1];

const panelTitles = ["ERA5","ERA20c_ERA5_comb","ERA5_2","CSM1 Control","CCSM2 Control","CCSM3 Control","CCSM4 Control","CESM1 (CAM5.2) LENS Control","CESM2 Control"];
const trendLabels = ["-0 74yr","-0 124yr","0 45yr","0 600yr","0 600yr","0 600yr","0 500yr","0 150yr","-0 300yr"];

// ---------- LAYOUT ----------
const colX = [95, 1095, 2095];
const rowY = [[213,515],[644,946],[1075,1375]];
const boxW = 857;
const BLUE = "#4169e1", GRAY = "#999999";

const panels = [
 {key:"era5", col:0,row:0, xr:[1949.5,2023.5], yr:[-3,3], xMaj:20, xMin:5, yMaj:1, yMin:0.2,
  series:[{start:era5Start, vals:era5Values, color:BLUE}]},
 {key:"era20c", col:1,row:0, xr:[1899.5,2024], yr:[-3.2,3.2], xMaj:30, xMajBase:1920, xMin:10, yMaj:2, yMin:0.5,
  series:[{start:era5Start, vals:era5Values, color:GRAY},{start:era20cStart, vals:era20cValues, color:BLUE}]},
 {key:"era5b", col:2,row:0, xr:[1978.5,2023.5], yr:[-3,3], xMaj:10, xMin:2, yMaj:2, yMin:0.5,
  series:[{start:era5Start, vals:era5Values, color:GRAY},{start:era5bStart, vals:era5bValues, color:BLUE}]},
 {key:"csm1", col:0,row:1, xr:[-0.3,298.3], yr:[-3.46,2.92], xMaj:50, xMin:10, yMaj:1, yMin:0.2,
  series:[{start:csm1Start, vals:csm1Values, color:BLUE}]},
 {key:"ccsm2", col:1,row:1, xr:[570.6,720.5], yr:[-4.04,3.24], xMaj:30, xMin:10, yMaj:2, yMin:0.5,
  series:[{start:ccsm2Start, vals:ccsm2Values, color:BLUE}]},
 {key:"ccsm3", col:2,row:1, xr:[300,797.5], yr:[-3.92,3.39], xMaj:100, xMin:20, yMaj:2, yMin:0.5,
  series:[{start:ccsm3Start, vals:ccsm3Values, color:BLUE}]},
 {key:"ccsm4", col:0,row:2, xr:[700,1299.5], yr:[-4.34,2.9], xMaj:100, xMin:20, yMaj:2, yMin:0.5,
  series:[{start:ccsm4Start, vals:ccsm4Values, color:BLUE}]},
 {key:"cesm1", col:1,row:2, xr:[1600,2199.5], yr:[-3.16,3.33], xMaj:100, xMin:20, yMaj:2, yMin:0.5,
  series:[{start:era5Start, vals:era5Values, color:GRAY},{start:cesm1Start, vals:cesm1Values, color:BLUE}]},
 {key:"cesm2", col:2,row:2, xr:[600,1198.5], yr:[-3.0,3.42], xMaj:100, xMin:20, yMaj:2, yMin:0.5,
  series:[{start:cesm2Start, vals:cesm2Values, color:BLUE}]}
];

const NS = "http://www.w3.org/2000/svg";
const svg = document.getElementById("fig");
const defs = document.getElementById("defs");
function mk(tag, attrs, parent){
  const e = document.createElementNS(NS, tag);
  for (const k in attrs) e.setAttribute(k, attrs[k]);
  (parent||svg).appendChild(e);
  return e;
}
function ticks(lo, hi, step, base){
  const out = []; base = base||0;
  let k = Math.ceil((lo - base)/step - 1e-9);
  for(;;k++){ const v = base + k*step; if (v > hi + 1e-9) break; out.push(Math.round(v*1000)/1000); }
  return out;
}

panels.forEach((p, idx) => {
  const x0 = colX[p.col], x1 = x0 + boxW;
  const y0 = rowY[p.row][0], y1 = rowY[p.row][1];
  const g = mk("g", {});
  
  
  const sx = v => x0 + (v - p.xr[0]) / (p.xr[1] - p.xr[0]) * (x1 - x0);
  const sy = v => y1 - (v - p.yr[0]) / (p.yr[1] - p.yr[0]) * (y1 - y0);

  const t = mk("text", {x:x0, y:y0-28, "font-size":28, fill:"#000"}, g);
  t.textContent = panelTitles[idx];
  
  
  const tr = mk("text", {x:x1+3, y:y0-31, "font-size":23, fill:"#000", "text-anchor":"end"}, g);
  
  
  const ts1 = mk("tspan", {}, tr); ts1.textContent = trendLabels[idx];
  const ts2 = mk("tspan", {dy:-10, "font-size":14}, tr); ts2.textContent = "-1";

  const cp = mk("clipPath", {id:"clip"+idx}, defs);
  mk("rect", {x:x0, y:y0, width:x1-x0, height:y1-y0}, cp);

  const xg = mk("g", {}, g);
  
  
  ticks(p.xr[0], p.xr[1], p.xMin).forEach(v => {
    const X = sx(v);
    mk("line", {x1:X, x2:X, y1:y1, y2:y1+11, stroke:"#666", "stroke-width":1.5}, xg);
    mk("line", {x1:X, x2:X, y1:y0, y2:y0-11, stroke:"#666", "stroke-width":1.5}, xg);
  });
  ticks(p.xr[0], p.xr[1], p.xMaj, p.xMajBase||0).forEach(v => {
    const X = sx(v);
    mk("line", {x1:X, x2:X, y1:y1, y2:y1+20, stroke:"#222", "stroke-width":1.8}, xg);
    mk("line", {x1:X, x2:X, y1:y0, y2:y0-20, stroke:"#222", "stroke-width":1.8}, xg);
    const lb = mk("text", {x:X, y:y1+56, "font-size":25, "text-anchor":"middle", fill:"#000"}, xg);
    lb.textContent = String(v);
    
    
  });

  const yg = mk("g", {}, g);
  
  
  ticks(p.yr[0], p.yr[1], p.yMin).forEach(v => {
    const Y = sy(v);
    mk("line", {x1:x0, x2:x0-10, y1:Y, y2:Y, stroke:"#777", "stroke-width":1.5}, yg);
    mk("line", {x1:x1, x2:x1+10, y1:Y, y2:Y, stroke:"#777", "stroke-width":1.5}, yg);
  });
  ticks(p.yr[0], p.yr[1], p.yMaj).forEach(v => {
    const Y = sy(v);
    mk("line", {x1:x0, x2:x0-19, y1:Y, y2:Y, stroke:"#222", "stroke-width":1.8}, yg);
    mk("line", {x1:x1, x2:x1+19, y1:Y, y2:Y, stroke:"#222", "stroke-width":1.8}, yg);
    const lb = mk("text", {x:x0-35, y:Y+9, "font-size":25, "text-anchor":"end", fill:"#000"}, yg);
    lb.textContent = v.toFixed(1);
    
    
  });

  const zl = mk("line", {x1:x0, x2:x1, y1:sy(0), y2:sy(0), stroke:"#aaa", "stroke-width":1.8}, g);
  
  

  const sg = mk("g", {"clip-path":"url(#clip"+idx+")"}, g);
  p.series.forEach(s => {
    const pts = s.vals.map((v,i) => sx(s.start + i).toFixed(1) + "," + sy(v).toFixed(1)).join(" ");
    const pl = mk("polyline", {points:pts, fill:"none", stroke:s.color, "stroke-width":2, "stroke-linejoin":"round"}, sg);
    
    
  });

  const bd = mk("rect", {x:x0, y:y0, width:x1-x0, height:y1-y0, fill:"none", stroke:"#444", "stroke-width":2}, g);
  
  
});
</script>
</body></html>
